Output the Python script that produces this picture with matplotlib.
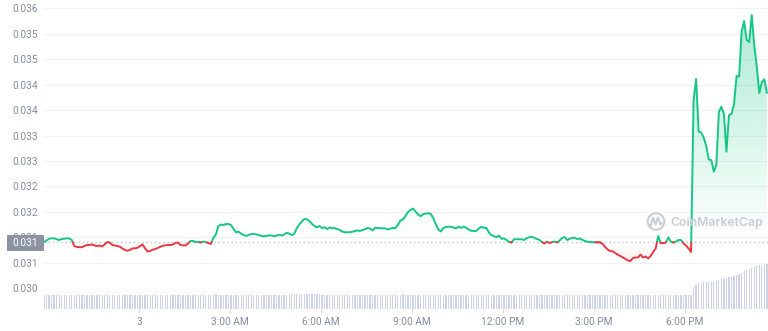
import numpy as np
import pandas as pd
import matplotlib
matplotlib.use("Agg")
import matplotlib.pyplot as plt
import matplotlib.dates as mdates
from matplotlib.path import Path
from matplotlib.patches import Rectangle, Circle
from matplotlib.lines import Line2D
from matplotlib.transforms import IdentityTransform
from datetime import datetime

plt.rcParams['font.family'] = ['Roboto', 'DejaVu Sans']

# ---------------- data ----------------
start_time = '2024-01-02 20:52'
base_price = 0.030986

prices = [
    0.030992, 0.031024, 0.031063, 0.031071, 0.031071, 0.031050, 0.031035, 0.031056, 0.031061, 0.031071,
    0.031067, 0.031035, 0.030906, 0.030885, 0.030881, 0.030879, 0.030906, 0.030928, 0.030928, 0.030939,
    0.030917, 0.030906, 0.030917, 0.030896, 0.030939, 0.030992, 0.030981, 0.030928, 0.030917, 0.030906,
    0.030891, 0.030853, 0.030821, 0.030806, 0.030821, 0.030853, 0.030857, 0.030868, 0.030906, 0.030939,
    0.030853, 0.030789, 0.030799, 0.030827, 0.030842, 0.030864, 0.030889, 0.030911, 0.030921, 0.030928,
    0.030928, 0.030939, 0.030971, 0.030981, 0.030928, 0.030921, 0.030917, 0.030960, 0.031018, 0.031014,
    0.030988, 0.030996, 0.030981, 0.031003, 0.030992, 0.030971, 0.030949, 0.031078, 0.031153, 0.031335,
    0.031367, 0.031356, 0.031378, 0.031378, 0.031356, 0.031271, 0.031200, 0.031213, 0.031170, 0.031142,
    0.031121, 0.031142, 0.031164, 0.031164, 0.031157, 0.031136, 0.031125, 0.031114, 0.031121, 0.031136,
    0.031131, 0.031114, 0.031131, 0.031142, 0.031131, 0.031153, 0.031189, 0.031174, 0.031142, 0.031164,
    0.031286, 0.031367, 0.031431, 0.031485, 0.031479, 0.031442, 0.031382, 0.031335, 0.031307, 0.031335,
    0.031292, 0.031307, 0.031271, 0.031303, 0.031292, 0.031286, 0.031271, 0.031249, 0.031217, 0.031200,
    0.031200, 0.031202, 0.031211, 0.031228, 0.031239, 0.031228, 0.031249, 0.031264, 0.031292, 0.031281,
    0.031239, 0.031299, 0.031292, 0.031286, 0.031286, 0.031286, 0.031260, 0.031281, 0.031292, 0.031286,
    0.031356, 0.031453, 0.031474, 0.031549, 0.031635, 0.031678, 0.031710, 0.031646, 0.031581, 0.031543,
    0.031586, 0.031603, 0.031607, 0.031596, 0.031506, 0.031378, 0.031260, 0.031217, 0.031292, 0.031314,
    0.031320, 0.031320, 0.031303, 0.031281, 0.031324, 0.031292, 0.031324, 0.031296, 0.031260, 0.031232,
    0.031228, 0.031228, 0.031281, 0.031318, 0.031296, 0.031296, 0.031196, 0.031136, 0.031121, 0.031093,
    0.031131, 0.031061, 0.031067, 0.031035, 0.030992, 0.030981, 0.031052, 0.031052, 0.031050, 0.031050,
    0.031035, 0.031078, 0.031095, 0.031106, 0.031082, 0.031056, 0.031039, 0.030992, 0.030960, 0.030999,
    0.030971, 0.030986, 0.031003, 0.030981, 0.031024, 0.031078, 0.031099, 0.031035, 0.031061, 0.031082,
    0.031082, 0.031056, 0.031067, 0.031039, 0.031014, 0.030996, 0.030992, 0.030988, 0.030986, 0.030986,
    0.030986, 0.030949, 0.030885, 0.030831, 0.030799, 0.030793, 0.030756, 0.030720, 0.030692, 0.030664,
    0.030628, 0.030596, 0.030585, 0.030649, 0.030660, 0.030660, 0.030724, 0.030660, 0.030681, 0.030639,
    0.030692, 0.030778, 0.030853, 0.031121, 0.030964, 0.030971, 0.030977, 0.031089, 0.031003, 0.030981,
    0.030999, 0.031035, 0.031035, 0.030964, 0.030917, 0.030853, 0.030778, 0.034035, 0.034485, 0.033356,
    0.033339, 0.033231, 0.033049, 0.032760, 0.032749, 0.032499, 0.032642, 0.033784, 0.033891, 0.033735,
    0.032927, 0.033714, 0.033735, 0.033949, 0.034549, 0.034534, 0.035499, 0.035728, 0.035321, 0.035278,
    0.035856, 0.035214, 0.034749, 0.034185, 0.034421, 0.034479, 0.034185,
]

volumes = [  # millions
    1.46, 1.45, 1.47, 1.45, 1.44, 1.46, 1.45, 1.47, 1.46, 1.45,
    1.44, 1.46, 1.45, 1.46, 1.47, 1.45, 1.44, 1.45, 1.46, 1.45,
    1.47, 1.46, 1.45, 1.44, 1.45, 1.46, 1.45, 1.47, 1.45, 1.46,
    1.45, 1.44, 1.46, 1.45, 1.46, 1.47, 1.45, 1.46, 1.45, 1.44,
    1.46, 1.45, 1.47, 1.46, 1.45, 1.44, 1.46, 1.45, 1.46, 1.45,
    1.44, 1.45, 1.46, 1.47, 1.45, 1.46, 1.45, 1.44, 1.46, 1.45,
    1.45, 1.46, 1.47, 1.45, 1.44, 1.46, 1.47, 1.48, 1.49, 1.48,
    1.47, 1.46, 1.45, 1.46, 1.45, 1.44, 1.45, 1.46, 1.45, 1.46,
    1.45, 1.46, 1.47, 1.45, 1.46, 1.45, 1.44, 1.46, 1.45, 1.46,
    1.47, 1.46, 1.45, 1.46, 1.45, 1.47, 1.48, 1.49, 1.50, 1.51,
    1.53, 1.54, 1.55, 1.55, 1.54, 1.53, 1.52, 1.51, 1.50, 1.49,
    1.48, 1.47, 1.46, 1.45, 1.46, 1.45, 1.44, 1.45, 1.46, 1.45,
    1.46, 1.45, 1.47, 1.46, 1.45, 1.44, 1.46, 1.45, 1.47, 1.46,
    1.45, 1.46, 1.45, 1.44, 1.45, 1.46, 1.47, 1.46, 1.45, 1.46,
    1.47, 1.48, 1.49, 1.48, 1.47, 1.46, 1.45, 1.46, 1.45, 1.44,
    1.45, 1.46, 1.45, 1.46, 1.47, 1.45, 1.46, 1.45, 1.44, 1.46,
    1.45, 1.46, 1.45, 1.47, 1.46, 1.45, 1.44, 1.45, 1.46, 1.45,
    1.46, 1.45, 1.44, 1.45, 1.46, 1.47, 1.45, 1.46, 1.45, 1.46,
    1.45, 1.44, 1.46, 1.45, 1.46, 1.45, 1.47, 1.46, 1.45, 1.44,
    1.45, 1.46, 1.45, 1.46, 1.47, 1.45, 1.46, 1.45, 1.44, 1.45,
    1.46, 1.45, 1.46, 1.45, 1.47, 1.46, 1.45, 1.46, 1.45, 1.44,
    1.45, 1.46, 1.45, 1.46, 1.45, 1.47, 1.46, 1.45, 1.44, 1.45,
    1.46, 1.45, 1.46, 1.47, 1.45, 1.46, 1.45, 1.44, 1.46, 1.45,
    1.46, 1.45, 1.47, 1.46, 1.45, 1.44, 1.45, 1.46, 1.45, 1.46,
    1.45, 1.46, 1.45, 1.44, 1.46, 1.45, 1.46, 1.47, 1.45, 1.46,
    1.45, 1.46, 1.45, 1.44, 1.46, 1.45, 1.46, 2.20, 2.45, 2.60,
    2.68, 2.73, 2.75, 2.77, 2.78, 2.80, 2.82, 2.90, 3.00, 3.08,
    3.15, 3.20, 3.28, 3.33, 3.40, 3.50, 3.65, 3.80, 3.90, 4.00,
    4.10, 4.20, 4.30, 4.40, 4.48, 4.55, 4.60,
]

y_tick_labels = ['0.030', '0.031', '0.031', '0.032', '0.032', '0.033',
                 '0.033', '0.034', '0.034', '0.035', '0.035', '0.036']
x_tick_hours = [0, 3, 6, 9, 12, 15, 18]
x_tick_labels = ['3', '3:00 AM', '6:00 AM', '9:00 AM', '12:00 PM', '3:00 PM', '6:00 PM']

# ---------------- figure ----------------
W, H = 768, 331
fig = plt.figure(figsize=(W / 100, H / 100), dpi=100)
fig.patch.set_facecolor('white')

def fx(px):
    return px / W

def fy(py):
    return 1 - py / H

GREEN = '#16c784'
RED = '#ea3943'
LABEL = '#858ca0'
GRID = '#eff2f5'

ax_v = fig.add_axes([fx(44), fy(309.3), 724 / W, 47.3 / H])
ax = fig.add_axes([fx(44), fy(288.3), 724 / W, 280 / H])
ax.patch.set_alpha(0)

p = np.array(prices)
v = np.array(volumes)
times = pd.date_range(start_time, periods=len(p), freq='5min')
x = mdates.date2num(times.to_pydatetime())
xlim = (x[0], x[0] + 23.87 / 24)
ylo, yhi = 0.030, 0.036

# volume bars
bar_w = (5 / 60 / 24) * 0.5
ax_v.bar(x, v, width=bar_w, color='#cdd2e5', linewidth=0)
ax_v.set_xlim(*xlim)
ax_v.set_ylim(0, 4.73)
for s in ax_v.spines.values():
    s.set_visible(False)
ax_v.set_yticks([])
day = datetime(2024, 1, 3)
tick_pos = [mdates.date2num(day) + h / 24 for h in x_tick_hours]
ax_v.set_xticks(tick_pos)
ax_v.set_xticklabels(x_tick_labels)
ax_v.tick_params(axis='x', length=2.9, width=0.8, color='#cfd6e4', pad=3,
                 labelsize=7.3, labelcolor=LABEL)
ax_v.patch.set_alpha(0)

# price axes
ax.set_xlim(*xlim)
ax.set_ylim(ylo, yhi)
for s in ax.spines.values():
    s.set_visible(False)
ax.set_xticks([])
ax.set_yticks(np.linspace(ylo, yhi, 12))
ax.set_yticklabels(y_tick_labels)
ax.tick_params(axis='y', length=0, pad=4.6, labelsize=7.3, labelcolor=LABEL)
ax.grid(axis='y', color=GRID, lw=0.8)
ax.set_axisbelow(True)

# gradient fills
def grad_image(rgb, a0, a1):
    g = np.zeros((256, 1, 4))
    g[..., 0] = rgb[0]
    g[..., 1] = rgb[1]
    g[..., 2] = rgb[2]
    g[:, 0, 3] = np.linspace(a0, a1, 256)
    return g

gcol = matplotlib.colors.to_rgb(GREEN)
rcol = matplotlib.colors.to_rgb(RED)
poly_up = ax.fill_between(x, p, base_price, where=p >= base_price, interpolate=True,
                          facecolor='none', edgecolor='none')
poly_dn = ax.fill_between(x, p, base_price, where=p <= base_price, interpolate=True,
                          facecolor='none', edgecolor='none')
im_up = ax.imshow(grad_image(gcol, 0.0, 0.36), extent=[xlim[0], xlim[1], base_price, yhi],
                  origin='lower', aspect='auto', zorder=1, interpolation='bilinear')
im_up.set_clip_path(Path.make_compound_path(*poly_up.get_paths()), ax.transData)
im_dn = ax.imshow(grad_image(rcol, 0.16, 0.0), extent=[xlim[0], xlim[1], ylo, base_price],
                  origin='lower', aspect='auto', zorder=1, interpolation='bilinear')
im_dn.set_clip_path(Path.make_compound_path(*poly_dn.get_paths()), ax.transData)
ax.set_xlim(*xlim)
ax.set_ylim(ylo, yhi)

# baseline
ax.axhline(base_price, color='#b9bec8', lw=0.9, ls=(0, (1, 2.4)), zorder=2)

# two-colour line
xs, ys = [x[0]], [p[0]]
for i in range(1, len(x)):
    a, b = p[i - 1] - base_price, p[i] - base_price
    if a * b < 0:
        f = a / (a - b)
        xs.append(x[i - 1] + f * (x[i] - x[i - 1]))
        ys.append(base_price)
    xs.append(x[i])
    ys.append(p[i])
xs = np.array(xs)
ys = np.array(ys)
up = np.where(ys >= base_price, ys, np.nan)
dn = np.where(ys <= base_price, ys, np.nan)
ax.plot(xs, up, color=GREEN, lw=1.4, zorder=3, solid_joinstyle='round', solid_capstyle='round')
ax.plot(xs, dn, color=RED, lw=1.4, zorder=3, solid_joinstyle='round', solid_capstyle='round')

# current-price box on the y axis
fig.add_artist(Rectangle((6.7, H - 250.7), 37.3, 15.4, transform=IdentityTransform(),
                         facecolor='#8d94a1', edgecolor='none', zorder=5))
fig.text(fx(25.6), fy(242.8), '0.031', color='white', ha='center', va='center',
         fontsize=7.3, zorder=6)

# watermark
wm = '#c9cdd6'
fig.add_artist(Circle((656, H - 221.5), 8.3, transform=IdentityTransform(), fill=False,
                      edgecolor=wm, lw=1.5, zorder=4))
wx = [650.5, 653, 655.5, 658, 660.5, 662]
wy = [226, 217.5, 224.5, 217.5, 224.5, 223]
fig.add_artist(Line2D(wx, [H - q for q in wy], transform=IdentityTransform(), color=wm,
                      lw=1.5, zorder=4, solid_joinstyle='round'))
fig.text(fx(670), fy(222.8), 'CoinMarketCap', fontsize=8.8, color=wm,
         family=['Inter', 'DejaVu Sans'], fontweight='semibold', ha='left', va='center', zorder=4)

fig.savefig('out.png', dpi=100, facecolor='white')
